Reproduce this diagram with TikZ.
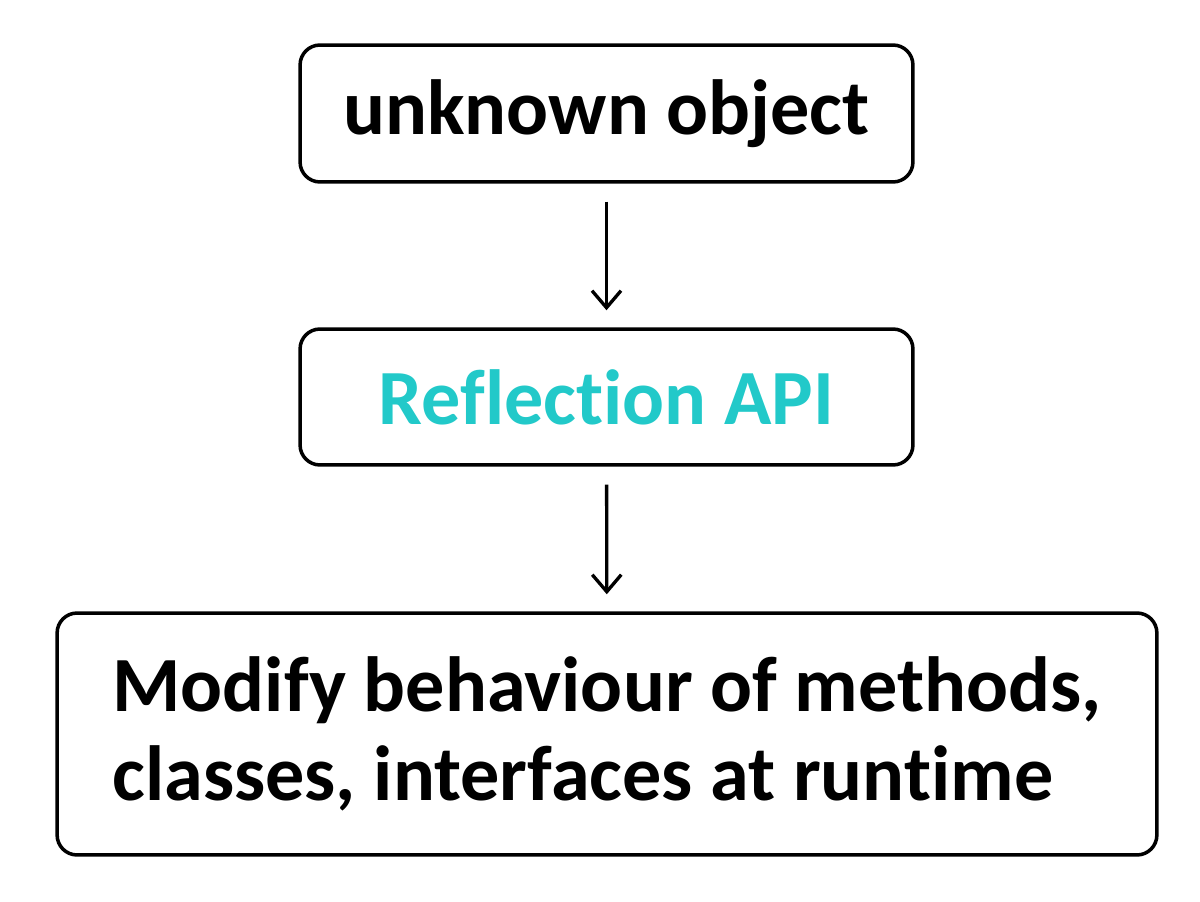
\documentclass[tikz,border=0pt]{standalone}
\usepackage{fontspec}
\setmainfont[Ligatures={NoCommon}]{Carlito}
\usepackage{xcolor}
\usetikzlibrary{arrows.meta,positioning}
\definecolor{refteal}{RGB}{34,201,201}

\begin{document}
\begin{tikzpicture}[x=0.02cm,y=-0.02cm,line width=2pt,
	box/.style={draw,rounded corners=0.4cm,inner sep=0pt,font=\fontsize{44.5}{50.6}\selectfont\bfseries},
	flow/.style={-{Straight Barb[length=0.34cm,width=0.58cm,line width=1.9pt]},line width=1.9pt,shorten <=0.36cm,shorten >=0.34cm}]

\useasboundingbox (0,0) rectangle (1200,902);

\node[box,minimum width=12.26cm,minimum height=2.74cm] (obj) at (606.5,113.5) {unknown object};
\node[box,minimum width=12.26cm,minimum height=2.72cm,text=refteal] (api) at (606.5,397) {Reflection API};
\node[box,minimum width=22cm,minimum height=4.84cm,align=left] (mod) at (607,734)
	{Modify behaviour of methods,\\classes, interfaces at runtime};

\draw[flow] (obj) -- (api);
\draw[flow] (api) -- (mod);

\end{tikzpicture}
\end{document}
